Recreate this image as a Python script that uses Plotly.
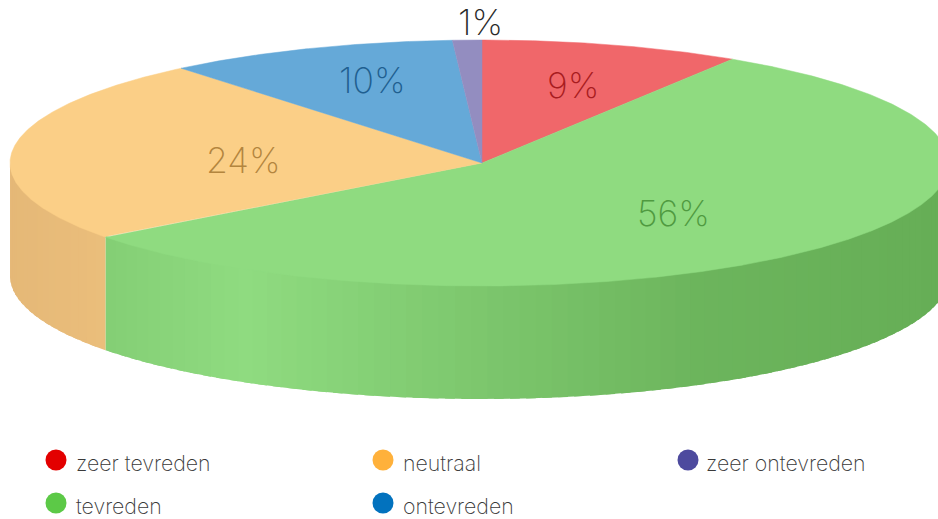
import numpy as np
import plotly.graph_objects as go

categories = ["zeer tevreden", "tevreden", "neutraal", "ontevreden", "zeer ontevreden"]
values = [9.0, 55.7, 24.3, 10.0, 1.0]
legend_colors = ["#E30000", "#5CC947", "#FFB13B", "#0272BE", "#4D4A9E"]
top_colors = ["#F0676A", "#8FDB80", "#FBCF87", "#65A9D8", "#938DC0"]
side_colors = ["#C85558", "#66AE56", "#E5B877", "#5088AE", "#75709A"]
label_colors = ["#A81C20", "#4F9A40", "#B3853E", "#1F5F90", "#2A2A2A"]

W, H = 938, 519
CX, CY, RX_L, RX_R, RY, DEPTH = 482.0, 163.0, 472.0, 467.0, 123.0, 113.0
SHADE_X = [10, 104.5, 105, 245, 480, 700, 938]
SHADE_V = [1.0, 0.75, 0.27, 0.0, 0.45, 0.85, 1.0]
STEP = 2.0
TUCK = 1.5
FAMILY = "Inter, Roboto, sans-serif"
LABEL_XY = [(573, 85), (673, 213), (243, 160), (372, 80), (480, 22)]
LEGEND_XY = [(56, 460), (56, 503), (383, 460), (383, 503), (688, 460)]
LEGEND_TEXT_X = [74, 74, 401, 401, 704]


def rgb(h):
    return np.array([int(h[i:i + 2], 16) for i in (1, 3, 5)], float)


def css(c):
    return "rgb({:.0f},{:.0f},{:.0f})".format(*c)


def px(a):
    t = np.radians(a)
    s = np.sin(t)
    return CX + np.where(s >= 0, RX_R, RX_L) * s, CY - RY * np.cos(t)


edges = np.concatenate([[0], np.cumsum(values)]) / sum(values) * 360
fig = go.Figure()

# side wall, in small vertical strips (upper edge tucked under the top face)
for i, c in enumerate(top_colors):
    lo, hi = max(edges[i], 90), min(edges[i + 1], 270)
    if lo >= hi:
        continue
    n = int(np.ceil((hi - lo) / STEP))
    grid = np.linspace(lo, hi, n + 1)
    for j in range(n):
        a = np.linspace(grid[j], min(grid[j + 1] + STEP * 0.6, hi), 5)
        x, y = px(a)
        xm = px((grid[j] + grid[j + 1]) / 2)[0]
        s = np.interp(xm, SHADE_X, SHADE_V)
        col = rgb(c) * (1 - s) + rgb(side_colors[i]) * s
        fig.add_trace(go.Scatter(
            x=np.r_[x, x[::-1]], y=np.r_[y - TUCK, y[::-1] + DEPTH], mode="lines", fill="toself",
            fillcolor=css(col), line=dict(width=0), hoverinfo="skip", showlegend=False))

# top face
for i, c in enumerate(top_colors):
    a = np.arange(edges[i], edges[i + 1] + 0.25, 0.25)
    a[-1] = edges[i + 1]
    x, y = px(a)
    fig.add_trace(go.Scatter(
        x=np.r_[CX, x, CX], y=np.r_[CY, y, CY], mode="lines", fill="toself",
        fillcolor=c, line=dict(width=0.5, color=c), name=categories[i],
        hoverinfo="skip", showlegend=False))

# value labels
for v, col, (lx, ly) in zip(values, label_colors, LABEL_XY):
    fig.add_annotation(x=lx, y=ly, text=f"{round(v)}%", showarrow=False, xanchor="center", yanchor="middle",
                       font=dict(family=FAMILY, size=35.5, color=col, weight=200))

# legend
for name, c, (lx, ly), tx in zip(categories, legend_colors, LEGEND_XY, LEGEND_TEXT_X):
    fig.add_trace(go.Scatter(
        x=[lx], y=[ly], mode="markers", marker=dict(size=21, color=c, line=dict(width=0)),
        hoverinfo="skip", showlegend=False))
    fig.add_annotation(x=tx, y=ly + 3, text=name, showarrow=False, xanchor="left", yanchor="middle",
                       font=dict(family=FAMILY, size=21.3, color="#3A3A3A", weight=200))

fig.update_layout(
    width=W, height=H, margin=dict(l=0, r=0, t=0, b=0), paper_bgcolor="white", plot_bgcolor="white",
    xaxis=dict(range=[0, W], visible=False, fixedrange=True),
    yaxis=dict(range=[H, 0], visible=False, fixedrange=True),
)
fig.write_html("out.html", config={"displayModeBar": False},
               post_script="document.body.style.margin='0';document.body.style.overflow='hidden';")
